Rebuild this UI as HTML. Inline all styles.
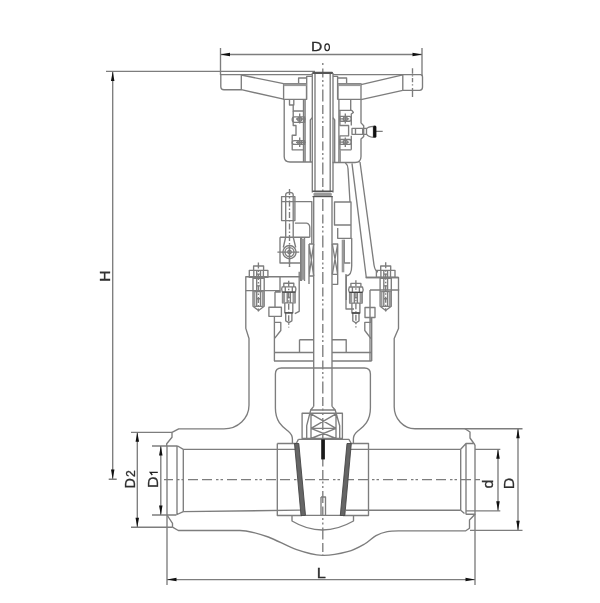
<!DOCTYPE html>
<html><head><meta charset="utf-8"><style>
html,body{margin:0;padding:0;background:#fff;width:600px;height:603px;overflow:hidden}
svg{display:block}
text{font-family:"Liberation Sans",sans-serif;fill:#333}
</style></head><body>
<svg width="600" height="603" viewBox="0 0 600 603">
<g fill="none" stroke="#7d7d7d" stroke-width="1.35" stroke-linejoin="round">
<!-- ===== DIMENSIONS ===== -->
<!-- D0 -->
<path d="M220.5 48V75M422 48V76M220.5 54.5H422"/>
<!-- H -->
<path d="M106 71.3H315M112.7 71.3V479M108.7 479.2H116.7"/>
<!-- D2 -->
<path d="M131 432.3H172M131 527.2H172M137.3 432.3V527.2"/>
<!-- D1 -->
<path d="M152 446H177.7M152 515H176M160.8 446V515"/>
<!-- L -->
<path d="M167 446V585M475 445V585M167 579.6H475"/>
<!-- d -->
<path d="M475 449.3H500.3M466 510.8H500.3M498 449.3V510.8"/>
<!-- D -->
<path d="M465 428.7H522.5M470 530.3H522.5M518 428.7V530.3"/>

<!-- ===== BODY ===== -->
<path d="M172 432.3L178.7 428.8H224A25 23.5 0 0 0 249 405.3V338.5L245.8 328.4V276.7H300"/>
<path d="M465 428.7H415A21 22 0 0 1 394.2 406.7V338.5L398.5 328.4V277.5H365.8"/>
<path d="M172 432.3V437.3L166.7 443.7V446"/>
<path d="M465 428.7L470 432V438L475 445"/>
<path d="M167 515L172.5 523.3V527.2L178.3 530.5H240L246.0 531.0C252.4 532.0 259.9 533.9 268.3 537.0C276.8 540.1 287.7 546.6 296.7 549.7C305.7 552.8 313.7 555.1 322.2 555.4C330.7 555.7 340.5 553.6 347.6 551.7C354.7 549.8 359.9 546.7 364.6 544.0C369.3 541.3 372.2 537.6 376.0 535.6C379.8 533.6 383.3 532.5 387.3 531.7C391.3 530.9 396.2 530.9 400.0 530.8H465.8L469.5 528.3V520L475 514.2H465.8"/>
<!-- pipe ends -->
<path d="M177 446V515M183.3 449.3V511.7M177.7 446L183.3 449.3M176 515L183.3 511.7"/>
<path d="M460.7 449.3V510.3M466 443.5V514.2M460.7 449.3L466 443.5H473.3M460.7 510.3L464.5 513.5"/>
<!-- bore -->
<path d="M183.3 449.3H299M349 449.3H460.7M183.3 511.7L300 510.2M346 510.2H460.7"/>
<!-- seat rings -->
<path d="M277.3 443.5H296M277.3 443.5V515.5H302M351 443.5H368.5V515.5H343"/>
<!-- cavity -->
<path d="M275.4 408V374Q275.4 368 281.4 368H364.4Q370.4 368 370.4 374V408C370.4 422 362.8 427 357.8 431C354.8 433.5 353.4 435.5 353.4 439V443.5"/>
<path d="M275.4 408C275.4 422 283 427 288 431C291 433.5 292.4 435.5 292.4 439V443.5"/>
<!-- bowl -->
<path d="M292 515.5V521Q322 539 353.5 521V515.5"/>
<!-- wedge -->
<path d="M298.4 439.4H348.9L351 443M298.4 439.4L296.5 443"/>
<path d="M305.5 515.3H342.5"/>

<!-- ===== HANDWHEEL ===== -->
<path d="M220.8 74.6H312.3M333 74.6H420.5Q422.5 74.6 422.5 77V87.3Q422.5 90.3 419.5 90.3H402.8V74.6"/>
<path d="M220.8 74.6V86.5Q220.8 89.7 224 89.7H241.3V74.6"/>
<path d="M241.3 75L283.6 83.6M241.3 89.7L283.6 99.2"/>
<path d="M402.8 74.8L361 84.6M402.8 90.3L361 99.6"/>
<path d="M283.6 83.6V99.4H306.5V83.6ZM298.6 83.6V78H306.7M306.7 99.4V76.3H312.3"/>
<path d="M338 83.6V99.4H361V83.6ZM346.6 83.6V78H337.6M337.6 99.4V76.3H333"/>
<!-- ===== GEARBOX ===== -->
<path d="M284.2 99.4V156.5Q284.2 162 290 162H312.3"/>
<path d="M289.5 99.4V105H293.8V99.4M293.2 105V111H303.5M303.5 99.4V162M305.1 99.4V162"/>
<path d="M293.2 111V125.5H296V135.2H292.2V149.8H303.5"/>
<path d="M361 99.4V122.9L363.7 125.8V136.5L361 139V156.5Q361 162.5 355 162.5H332.5"/>
<path d="M338.9 99.4V162M350.7 99.4V110.4M339.4 110.4H351.8L353.4 112.5L351.3 114V125.5M351.3 135.8V149.8"/>
<path d="M339.9 110.4V125.5H348.6V135.8H339.9V149.8H351.3"/>
<!-- bearings -->
<path d="M294.5 116.9H304.6V122.3H294.5Q292.2 122.3 292.2 119.6Q292.2 116.9 294.5 116.9Z"/>
<path d="M294.5 140.6H304.6V144.4H294.5Q292.2 144.4 292.2 142.5Q292.2 140.6 294.5 140.6Z"/>
<path d="M349.3 116.3H339.9V121.2H349.3Q351.3 121.2 351.3 118.8Q351.3 116.3 349.3 116.3Z"/>
<path d="M349.3 139.5H339.9V144.4H349.3Q351.3 144.4 351.3 142Q351.3 139.5 349.3 139.5Z"/>
<path d="M299.7 113.6V123.4M296 119H305.7M299.7 137.4V147.1M296 142.3H305.7M345.3 113.6V123.4M339.3 118.8H349.2M345.3 137.4V147.1M339.3 142.1H349.2"/>
<circle cx="299.7" cy="119.2" r="2"/><circle cx="299.7" cy="142.4" r="2"/>
<circle cx="345.3" cy="118.8" r="2"/><circle cx="345.3" cy="142.1" r="2"/>
<!-- grease fitting -->
<path d="M352 128.3H366.5V134.3H352ZM355.5 128.3V134.3M362.7 128.3V134.3M366.5 128.8Q368 126.5 373.5 126.3V137.3Q368 137 366.5 134M374.5 131.3H382.7"/>
<!-- ===== STEM ===== -->
<path d="M312.3 73V192.6M333 73V192.6M315 74V191.5M330.2 74V191.5"/>
<path d="M310.3 162V120L312.3 117.6M334.7 162V120L333 117.6"/>
<path d="M313.7 197V406.4M332 197V406.4"/>
<!-- ===== YOKE LEFT ===== -->
<path d="M283.3 247.5L285.7 237V195Q285.7 192.4 289.5 192.4Q293.2 192.4 293.2 195V237L295.7 247.5"/>
<path d="M281.6 196.6H294.9V220.6H281.6ZM281.6 201.6H294.9"/>
<path d="M294.9 201.6H312.3M311.8 201.6V244M294.9 223.1H306.5Q309.8 223.5 309.8 228V237.2M280 237.2H309.8"/>
<path d="M280 237.2V263H300.7V237.2M300.7 263V281"/>
<path d="M301.5 238V281M304.5 238V281M309 244V284M309 244H313.7M309 276H313.7M309 244L313.7 276M313.7 244L309 276"/>
<circle cx="289.5" cy="252.1" r="6.6"/><circle cx="289.5" cy="252.1" r="4.5"/><circle cx="289.5" cy="252.1" r="1.8"/>
<path d="M277.4 252.1H299.3M289.5 246.3V267.1"/>
<!-- ===== YOKE RIGHT ===== -->
<path d="M334.5 202H351V225H334.5ZM351 225V238.3M337.7 228V238.3H351.7V265.7Q351.7 275.7 346.3 275.7V300"/>
<path d="M344.3 239.7V263H350.3"/>
<path d="M332.3 244H337.7V284.3H332.3M332.3 244L337.7 274.3M337.7 244L332.3 274.3M332.3 274.3H337.7"/>
<path d="M345.3 162.7Q348 165 348 168.7L350 202"/>
<path d="M352 163.3L366.3 277.7"/>
<path d="M360 162L374 265Q375 271 378 272"/>
<!-- ===== BONNET ===== -->
<path d="M245.8 290.6H280.8M280 276.7V290.6M275 292H280.8M275 292V307.2M268.9 307.2H281.4V316.3H268.9ZM274.4 316.3V322.3H280.8V330.5L274.4 338.7M274.4 322.3V361M299.2 271.7V311.3L294.8 313.6"/>
<path d="M365.8 277.5H398.3M370 290H399.2M370 290V361M365 307.5H375V317.5H365ZM371.7 317.5V361M346 274V309H354"/>
<path d="M274 352.5H313.7M332 352.5H371.7M274 361H313.7M332 361H371.7M299.5 339.7H313.7M332 339.7H346.2V352.5"/>
<path d="M299.5 339.7V352.5"/>
<!-- stem head / T-slot -->
<path d="M313.7 406.4L310.7 410H335.2L332 406.4M302.1 413.2H342.4V438.5H302.1ZM310.7 410L306.7 425.7V438.5M335.2 410L339.7 425.7V438.5M311 413.2V438.5M336 413.2V438.5M311 428.4H336M311 413.8L336 428.4M336 413.8L311 428.4M311 428.4L336 438.5M336 428.4L311 438.5"/>
<path d="M321 497H325.5V515"/><path d="M321 497V515"/>
<path d="M371 317.5V322.3H364.8V330.5L371 338.7"/>
<!-- bolts -->
<path d="M253.6 270.3V266H263.6V270.3M249.3 270.3H267.9V277.4H249.3ZM253.8 270.3V277.4M263.4 270.3V277.4M256.7 270.3V277.4M260.5 270.3V277.4M256.7 274.1H260.5M253 277.4V306.3L258.6 310.5L264.2 306.3V277.4M253 306.3H264.2M253 278.3H264.2M253 291.6H264.2M256.7 278.3V290.6M260.5 278.3V290.6M256.7 285.9H260.5M256.7 291.6V306.3M260.5 291.6V306.3M256.7 298.7H260.5"/>
<path d="M380.7 270.3V266H390.7V270.3M376.4 270.3H395V277.4H376.4ZM380.9 270.3V277.4M390.5 270.3V277.4M383.8 270.3V277.4M387.6 270.3V277.4M383.8 274.1H387.6M380.1 277.4V306.3L385.7 310.5L391.3 306.3V277.4M380.1 306.3H391.3M380.1 278.3H391.3M380.1 291.6H391.3M383.8 278.3V290.6M387.6 278.3V290.6M383.8 285.9H387.6M383.8 291.6V306.3M387.6 291.6V306.3M383.8 298.7H387.6"/>
<path d="M283.8 286.8V283.2H293.8V286.8M282.2 286.8H295.4Q296.6 289.4 295.4 292.1H282.2Q281 289.4 282.2 286.8ZM285.3 286.8V292.1M292.3 286.8V292.1M282.5 292.1V302.9H295.1V292.1M287.2 292.1V302.9M290.4 292.1V302.9M287.2 297.5H290.4M284.8 302.9V312.8H292.8V302.9M285.7 312.8V320.8L288.8 322.6L291.9 320.8V312.8"/>
<path d="M350.9 287V283.4H360.9V287M349.3 287H362.5Q363.7 289.6 362.5 292.3H349.3Q348.1 289.6 349.3 287ZM352.4 287V292.3M359.4 287V292.3M349.6 292.3V303.1H362.2V292.3M354.3 292.3V303.1M357.4 292.3V303.1M354.3 297.7H357.4M351.9 303.1V313H359.9V303.1M352.8 313V321L355.9 322.8L359 321V313"/>
</g>
<!-- centerlines -->
<g fill="none" stroke="#7d7d7d" stroke-width="1.35">
<path d="M322.8 63V556" stroke-dasharray="12 3.5 9 2.5 2 2.5 2 3" stroke-dashoffset="9.9"/>
<path d="M164 479.6H480" stroke-dasharray="10 4 10 4 2.5 2 2.5 4" stroke-dashoffset="15"/>
<path d="M412.5 68.3V97" stroke-dasharray="5.4 1.5 1.2 1.5 4.4 2 1.2 2.5 10 5"/>
<path d="M258.4 262.5V311.5M288.7 280.8V327.5M385.7 262.3V311.5M355.9 280.3V327.5M289.5 189V267" stroke-dasharray="6 2 1.5 2"/>
</g>
<!-- dark accents -->
<g fill="#555" stroke="none">
<rect x="312.3" y="71.8" width="20.7" height="2.2" rx="1"/>
<rect x="312.3" y="190.6" width="20.7" height="1.3" rx="0.6"/>
<rect x="313.4" y="192.6" width="18.4" height="3.6" rx="1.5" fill="#999"/>
<rect x="312.5" y="196" width="20.3" height="1.2"/>
<rect x="321.2" y="439.4" width="3.7" height="20" fill="#1a1a1a"/>
</g>
<g fill="#999" stroke="none">
<rect x="283.6" y="83.6" width="22.9" height="2.5"/>
<rect x="338" y="83.6" width="23" height="2.5"/>
<rect x="301.5" y="238.8" width="3" height="41"/>
<rect x="341.7" y="239.7" width="2.6" height="32.6"/>
<rect x="339" y="149.8" width="2" height="12.2"/>
<rect x="253" y="291.6" width="2.4" height="14.7"/><rect x="261.8" y="291.6" width="2.4" height="14.7"/>
<rect x="380.1" y="291.6" width="2.4" height="14.7"/><rect x="388.9" y="291.6" width="2.4" height="14.7"/>
<rect x="282.5" y="292.1" width="2.6" height="10.8"/><rect x="292.5" y="292.1" width="2.6" height="10.8"/>
<rect x="349.6" y="292.3" width="2.6" height="10.8"/><rect x="359.6" y="292.3" width="2.6" height="10.8"/>
</g>
<rect x="373.2" y="125.6" width="3.2" height="12.2" rx="1.5" fill="#111"/>
<g fill="none" stroke="#444" stroke-width="1.3"><path d="M282.2 292.1H295.4M284.8 312.8H292.8"/><path d="M349.3 292.3H362.5M351.9 313H359.9"/></g>
<!-- seat faces -->
<g fill="#666" stroke="#444" stroke-width="0.9">
<polygon points="294.5,443.5 298.8,443.5 305.5,515.5 301,515.5"/>
<polygon points="347,443.5 351.3,443.5 344.8,515.5 340.3,515.5"/>
</g>
<!-- arrows -->
<g fill="#111" stroke="none">
<polygon points="220.5,54.5 230,52.75 230,56.25"/>
<polygon points="422,54.5 412.5,52.75 412.5,56.25"/>
<polygon points="112.7,71.5 110.95,81 114.45,81"/>
<polygon points="112.7,479 110.95,469.5 114.45,469.5"/>
<polygon points="137.3,432.3 135.55,441.8 139.05,441.8"/>
<polygon points="137.3,527.2 135.55,517.7 139.05,517.7"/>
<polygon points="160.8,446 159.05,455.5 162.55,455.5"/>
<polygon points="160.8,515 159.05,505.5 162.55,505.5"/>
<polygon points="167,579.6 176.5,577.85 176.5,581.35"/>
<polygon points="475,579.6 465.5,577.85 465.5,581.35"/>
<polygon points="498,449.3 496.25,458.8 499.75,458.8"/>
<polygon points="498,510.8 496.25,501.3 499.75,501.3"/>
<polygon points="518,428.7 516.25,438.2 519.75,438.2"/>
<polygon points="518,530.3 516.25,520.8 519.75,520.8"/>
</g>
<!-- texts -->
<g fill="#222" stroke="#222" stroke-width="0.3" font-family="Liberation Sans" style="font-family:'Liberation Sans',sans-serif;filter:grayscale(1)">
<text transform="translate(311.1,51.3) scale(1.15,1)" font-size="13.6">D</text>
<ellipse cx="327.15" cy="47.3" rx="2.3" ry="3.45" fill="none" stroke="#222" stroke-width="1.15"/>
<text transform="translate(110.3,281.8) rotate(-90) scale(1.1,1)" font-size="14.3">H</text>
<text transform="translate(134.5,488.4) rotate(-90) scale(0.93,1)" font-size="15.4">D</text>
<text transform="translate(134.7,477) rotate(-90) scale(1.0,1)" font-size="12.2">2</text>
<text transform="translate(157.7,488) rotate(-90) scale(1.15,1)" font-size="14">D</text>
<path d="M157.8 472.4H150.3L152.3 475" fill="none" stroke="#222" stroke-width="1.35"/>
<text transform="translate(492.5,488.5) rotate(-90) scale(1.1,1)" font-size="14.5">d</text>
<text transform="translate(514,489.2) rotate(-90) scale(1.15,1)" font-size="14">D</text>
<text transform="translate(316.7,577.6) scale(1.15,1)" font-size="14.2">L</text>
</g>
</svg>
</body></html>
